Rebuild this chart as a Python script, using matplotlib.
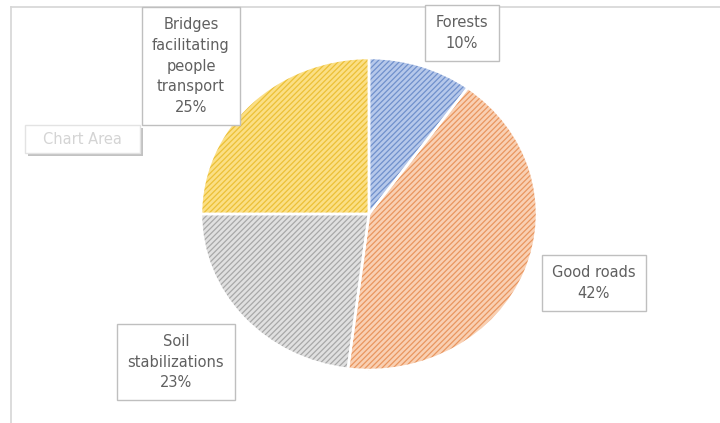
import matplotlib.pyplot as plt
import matplotlib.patches as mpatches

# datos del gráfico
categorias = ['Forests', 'Good roads', 'Soil\nstabilizations', 'Bridges\nfacilitating\npeople\ntransport']
valores = [10, 42, 23, 25]
colores_fondo = ['#b6c8ea', '#f9d0b3', '#e0e0e0', '#fbdf85']
colores_trama = ['#7090cc', '#e9965f', '#a8a8a8', '#ecc036']

# posiciones de las etiquetas (pixeles de la figura)
pos_etiquetas = [(462, 33), (594, 283), (176, 362), (191, 66)]

plt.rcParams['font.family'] = ['DejaVu Sans']
plt.rcParams['hatch.linewidth'] = 0.9

W, H = 720, 423
fig = plt.figure(figsize=(W / 100, H / 100), dpi=100, facecolor='white')

# marco del área del gráfico
fig.add_artist(plt.Line2D([11 / W, 1], [1 - 7 / H, 1 - 7 / H], color='#d6d6d6', lw=1.2))
fig.add_artist(plt.Line2D([11 / W, 11 / W], [0, 1 - 7 / H], color='#d6d6d6', lw=1.2))

# pastel
ax = fig.add_axes([201 / W, 1 - 370 / H, 336 / W, 312 / H])
wedges, _ = ax.pie(valores, startangle=90, counterclock=False, radius=1,
                   colors=colores_fondo)
for w, c in zip(wedges, colores_trama):
    w.set_hatch('//////')
    w.set_edgecolor(c)
    w.set_linewidth(0)
    # borde blanco encima de la trama
    ax.add_patch(mpatches.Wedge(w.center, w.r, w.theta1, w.theta2, facecolor='none',
                                edgecolor='white', linewidth=1.8))
ax.set_aspect('auto')
ax.set_xlim(-1, 1)
ax.set_ylim(-1, 1)
ax.axis('off')

# etiquetas de datos
for cat, v, (px, py) in zip(categorias, valores, pos_etiquetas):
    fig.text(px / W, 1 - py / H, f'{cat}\n{v}%', ha='center', va='center',
             fontsize=10.5, color='#606060', linespacing=1.48,
             bbox=dict(boxstyle='square,pad=0.7', facecolor='white', edgecolor='#bfbfbf', linewidth=1))

# tooltip "Chart Area"
fig.add_artist(mpatches.Rectangle((28 / W, 1 - 156 / H), 115 / W, 28 / H, transform=fig.transFigure,
                                  facecolor='#9a9a9a', edgecolor='none', alpha=0.6))
fig.add_artist(mpatches.Rectangle((25 / W, 1 - 153 / H), 115 / W, 28 / H, transform=fig.transFigure,
                                  facecolor='white', edgecolor='#e3e3e3', linewidth=1))
fig.text(82 / W, 1 - 139 / H, 'Chart Area', ha='center', va='center', fontsize=10.5, color='#d4d4d4')

plt.savefig('out.png', dpi=100)
